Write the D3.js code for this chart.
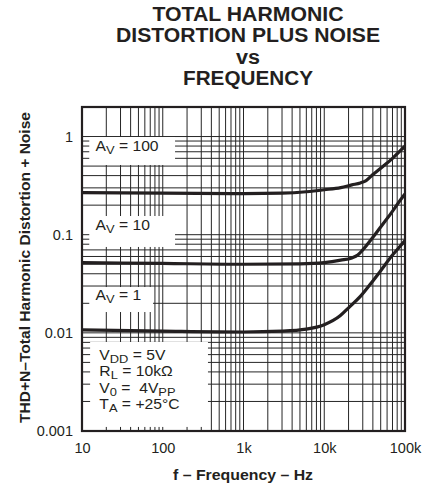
<!DOCTYPE html>
<html lang="en">
<head>
<meta charset="UTF-8">
<title>THD+N vs Frequency</title>
<script src="https://cdn.jsdelivr.net/npm/d3@7"></script>
<style>
  body { margin: 0; background: #fff; }
  svg text { font-family: "Liberation Sans", Arial, Helvetica, sans-serif; fill: #231f20; }
</style>
</head>
<body>
<svg id="viz"></svg>
<script>
// Data ---
const titleLines = ["TOTAL HARMONIC", "DISTORTION PLUS NOISE", "vs", "FREQUENCY"];
const xTicks = [10, 100, 1000, 10000, 100000];
const xTickLabels = ["10", "100", "1k", "10k", "100k"];
const yTicks = [0.001, 0.01, 0.1, 1];
const yTickLabels = ["0.001", "0.01", "0.1", "1"];

const freqAv100 = [10, 100, 1000, 3000, 6000, 10000, 16000, 22000, 28000, 33000, 40000, 50000, 70000, 94000, 100000];
const thdAv100  = [0.268, 0.265, 0.262, 0.265, 0.274, 0.287, 0.302, 0.322, 0.337, 0.356, 0.41, 0.476, 0.6, 0.76, 0.8];

const freqAv10 = [10, 100, 1000, 5000, 10000, 16000, 22000, 26000, 30000, 40000, 50000, 67000, 94000, 100000];
const thdAv10  = [0.052, 0.051, 0.05, 0.0505, 0.052, 0.055, 0.058, 0.062, 0.07, 0.094, 0.12, 0.165, 0.244, 0.26];

const freqAv1 = [10, 100, 1000, 3000, 6000, 10000, 15700, 20000, 28000, 38000, 49000, 70000, 94000, 100000];
const thdAv1  = [0.0107, 0.0104, 0.0102, 0.0104, 0.0109, 0.0121, 0.0149, 0.018, 0.0235, 0.032, 0.042, 0.062, 0.082, 0.087];

const series = [
  { name: "AV=100", freq: freqAv100, thd: thdAv100 },
  { name: "AV=10", freq: freqAv10, thd: thdAv10 },
  { name: "AV=1", freq: freqAv1, thd: thdAv1 }
];

// Chart container dimensions ---
const svgWidth = 431, svgHeight = 487;
const plot = { left: 82, right: 405, top: 107, bottom: 431 };
const font = '"Liberation Sans", Arial, Helvetica, sans-serif';
const textStretch = 1.12;

const svg = d3.select('#viz')
  .attr('width', svgWidth)
  .attr('height', svgHeight);

// Scales ---
const x = d3.scaleLog().domain([10, 100000]).range([plot.left, plot.right]);
const y = d3.scaleLog().domain([0.001, 2]).range([plot.bottom, plot.top]);

// Title ---
const titleWidths = [191, 264, 24, 130];
svg.append('g')
  .selectAll('text')
  .data(titleLines)
  .join('text')
  .attr('x', 248)
  .attr('y', (d, i) => 21 + i * 21.3)
  .attr('text-anchor', 'middle')
  .attr('textLength', (d, i) => titleWidths[i])
  .attr('lengthAdjust', 'spacingAndGlyphs')
  .style('font-size', '20px')
  .style('font-weight', 'bold')
  .text(d => d);

// Grid ---
const grid = svg.append('g')
  .attr('stroke', '#262626')
  .attr('stroke-width', 1);
grid.selectAll('line.v')
  .data(x.ticks())
  .join('line')
  .attr('class', 'v')
  .attr('x1', d => x(d)).attr('x2', d => x(d))
  .attr('y1', plot.top).attr('y2', plot.bottom);
grid.selectAll('line.h')
  .data(y.ticks())
  .join('line')
  .attr('class', 'h')
  .attr('x1', plot.left).attr('x2', plot.right)
  .attr('y1', d => y(d)).attr('y2', d => y(d));

// White label boxes (in data units: f0, f1, v0 top, v1 bottom) ---
const boxes = [
  { f0: 12.3, f1: 142, v0: 0.989, v1: 0.513 },
  { f0: 12.3, f1: 142, v0: 0.155, v1: 0.075 },
  { f0: 12.3, f1: 75.7, v0: 0.0293, v1: 0.0163 },
  { f0: 12.6, f1: 363, v0: 0.00807, v1: 0.0011 }
];
svg.append('g')
  .selectAll('rect')
  .data(boxes)
  .join('rect')
  .attr('x', d => x(d.f0))
  .attr('y', d => y(d.v0))
  .attr('width', d => x(d.f1) - x(d.f0))
  .attr('height', d => y(d.v1) - y(d.v0))
  .attr('fill', '#fff');

// Curves ---
const line = d3.line()
  .x(d => x(d[0]))
  .y(d => y(d[1]))
  .curve(d3.curveMonotoneX);
svg.append('clipPath').attr('id', 'clip')
  .append('rect')
  .attr('x', plot.left).attr('y', plot.top)
  .attr('width', plot.right - plot.left).attr('height', plot.bottom - plot.top);
svg.append('g')
  .attr('clip-path', 'url(#clip)')
  .selectAll('path')
  .data(series)
  .join('path')
  .attr('d', d => line(d.freq.map((f, i) => [f, d.thd[i]])))
  .attr('fill', 'none')
  .attr('stroke', '#231f20')
  .attr('stroke-width', 3.2)
  .attr('stroke-linejoin', 'round');

// Frame ---
svg.append('rect')
  .attr('x', plot.left).attr('y', plot.top)
  .attr('width', plot.right - plot.left).attr('height', plot.bottom - plot.top)
  .attr('fill', 'none')
  .attr('stroke', '#231f20')
  .attr('stroke-width', 2.2);

// Axes ---
const xAxis = svg.append('g')
  .attr('transform', `translate(0,${plot.bottom})`)
  .call(d3.axisBottom(x).tickValues(xTicks).tickFormat((d, i) => xTickLabels[i]).tickSize(0).tickPadding(12));
const yAxis = svg.append('g')
  .attr('transform', `translate(${plot.left},0)`)
  .call(d3.axisLeft(y).tickValues(yTicks).tickFormat((d, i) => yTickLabels[i]).tickSize(0).tickPadding(9));
[xAxis, yAxis].forEach(ax => {
  ax.select('.domain').remove();
  ax.selectAll('text')
    .attr('fill', '#231f20')
    .style('font-size', '14.5px')
    .style('font-family', font);
});

// Axis titles ---
svg.append('text')
  .attr('x', 243)
  .attr('y', 480)
  .attr('text-anchor', 'middle')
  .attr('textLength', 140)
  .attr('lengthAdjust', 'spacingAndGlyphs')
  .style('font-size', '15.5px')
  .style('font-weight', 'bold')
  .text('f \u2013 Frequency \u2013 Hz');
svg.append('text')
  .attr('transform', 'translate(29.5,267.5) rotate(-90)')
  .attr('text-anchor', 'middle')
  .attr('textLength', 311)
  .attr('lengthAdjust', 'spacingAndGlyphs')
  .style('font-size', '15.5px')
  .style('font-weight', 'bold')
  .text('THD+N\u2013Total Harmonic Distortion + Noise');

// Annotations: [text, kind] parts, anchored in data units ---
const annotations = [
  { f: 14.7, v: 0.72, parts: [["A", ""], ["V", "sub"], [" = 100", ""]] },
  { f: 14.7, v: 0.112, parts: [["A", ""], ["V", "sub"], [" = 10", ""]] },
  { f: 14.7, v: 0.0218, parts: [["A", ""], ["V", "sub"], [" = 1", ""]] },
  { f: 16.4, v: 0.00529, parts: [["V", ""], ["DD", "sub"], [" = 5V", ""]] },
  { f: 16.4, v: 0.00361, parts: [["R", ""], ["L", "sub"], [" = 10k\u03a9", ""]] },
  { f: 16.4, v: 0.00246, parts: [["V", ""], ["0", "sub"], [" =  4V", ""], ["PP", "sub"]] },
  { f: 16.4, v: 0.00168, parts: [["T", ""], ["A", "sub"], [" = +25\u00b0C", ""]] }
];
const ann = svg.append('g')
  .selectAll('text')
  .data(annotations)
  .join('text')
  .attr('transform', d => `translate(${x(d.f)},${y(d.v)}) scale(${textStretch},1)`)
  .style('font-size', '14px')
  .style('white-space', 'pre');
ann.each(function (d) {
  const t = d3.select(this);
  let shifted = false;
  d.parts.forEach(([txt, kind]) => {
    const ts = t.append('tspan').text(txt);
    if (kind === 'sub') {
      ts.style('font-size', '11.5px');
      if (!shifted) { ts.attr('dy', 3); shifted = true; }
    } else if (shifted) {
      ts.attr('dy', -3);
      shifted = false;
    }
  });
});
</script>
</body>
</html>
